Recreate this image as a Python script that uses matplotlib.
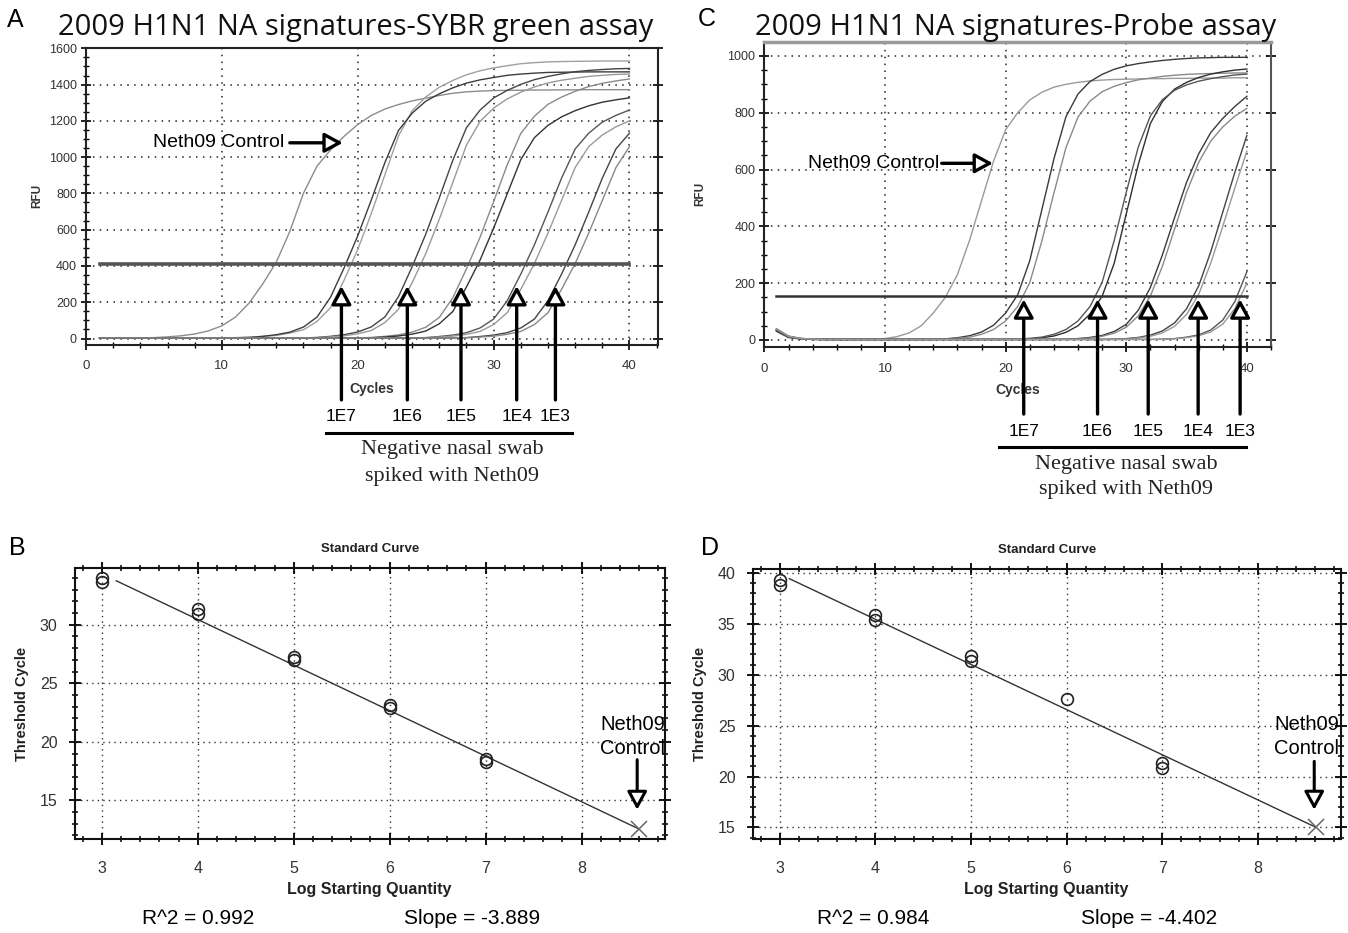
import matplotlib

matplotlib.use("Agg")
import matplotlib.pyplot as plt
from matplotlib import font_manager
from matplotlib.ticker import MultipleLocator
from matplotlib.transforms import blended_transform_factory


def first_font(*names):
    for name in names:
        try:
            font_manager.findfont(font_manager.FontProperties(family=name), fallback_to_default=False)
            return name
        except ValueError:
            continue
    return "DejaVu Sans"


SANS = first_font("Liberation Sans", "Arial")
NARROW = first_font("Liberation Sans Narrow", "DejaVu Sans Condensed", "Liberation Sans")
TITLE = first_font("Open Sans", "Lato")
SERIF = first_font("Liberation Serif", "DejaVu Serif")
plt.rcParams["font.family"] = [NARROW, "DejaVu Sans"]

# ---- data ---------------------------------------------------------------
CYCLES = list(range(1, 41))
DILUTIONS = ["1E7", "1E6", "1E5", "1E4", "1E3"]

# panel A: SYBR green amplification curves (RFU per cycle)
a_ctrl = [2, 2, 3, 3, 5, 9, 15, 25, 42, 70, 118, 195, 300, 420, 590, 800, 950, 1040, 1115, 1180,
          1230, 1265, 1290, 1310, 1325, 1340, 1352, 1360, 1364, 1367, 1368, 1369, 1370, 1370, 1371, 1371, 1372, 1372, 1372, 1372]
a_1e7a = [3, 3, 3, 3, 3, 3, 3, 3, 3, 3, 5, 7, 11, 17, 30, 48, 94, 170, 322, 490,
          690, 903, 1117, 1255, 1331, 1385, 1423, 1454, 1476, 1492, 1504, 1515, 1521, 1525, 1527, 1528, 1529, 1530, 1530, 1530]
a_1e7b = [3, 3, 3, 3, 3, 3, 3, 3, 3, 3, 4, 6, 12, 21, 35, 63, 118, 228, 390, 566,
          764, 970, 1147, 1242, 1308, 1349, 1382, 1408, 1426, 1439, 1451, 1458, 1463, 1467, 1468, 1469, 1470, 1470, 1470, 1470]
a_1e6a = [3, 3, 3, 3, 3, 3, 3, 3, 3, 3, 3, 3, 3, 3, 3, 3, 6, 12, 21, 36,
          64, 119, 231, 395, 574, 775, 983, 1162, 1259, 1326, 1368, 1401, 1427, 1445, 1459, 1471, 1478, 1483, 1487, 1489]
a_1e6b = [3, 3, 3, 3, 3, 3, 3, 3, 3, 3, 3, 3, 3, 3, 3, 3, 4, 9, 15, 26,
          44, 88, 161, 307, 467, 657, 861, 1066, 1197, 1270, 1321, 1358, 1387, 1409, 1424, 1435, 1445, 1451, 1456, 1458]
a_1e5a = [3, 3, 3, 3, 3, 3, 3, 3, 3, 3, 3, 3, 3, 3, 3, 3, 3, 3, 3, 3,
          6, 12, 20, 35, 62, 116, 225, 384, 558, 754, 957, 1131, 1225, 1291, 1331, 1363, 1389, 1407, 1420, 1431]
a_1e5b = [3, 3, 3, 3, 3, 3, 3, 3, 3, 3, 3, 3, 3, 3, 3, 3, 3, 3, 3, 3,
          4, 8, 14, 24, 41, 81, 149, 284, 432, 608, 797, 986, 1107, 1175, 1222, 1256, 1283, 1303, 1316, 1327]
a_1e4a = [3, 3, 3, 3, 3, 3, 3, 3, 3, 3, 3, 3, 3, 3, 3, 3, 3, 3, 3, 3,
          3, 3, 3, 3, 5, 11, 19, 32, 58, 107, 208, 355, 516, 697, 884, 1045, 1132, 1193, 1230, 1260]
a_1e4b = [3, 3, 3, 3, 3, 3, 3, 3, 3, 3, 3, 3, 3, 3, 3, 3, 3, 3, 3, 3,
          3, 3, 3, 3, 4, 8, 13, 23, 39, 77, 142, 271, 413, 581, 761, 942, 1058, 1122, 1167, 1200]
a_1e3a = [3, 3, 3, 3, 3, 3, 3, 3, 3, 3, 3, 3, 3, 3, 3, 3, 3, 3, 3, 3,
          3, 3, 3, 3, 3, 3, 3, 5, 11, 19, 32, 58, 107, 208, 355, 516, 697, 884, 1045, 1132]
a_1e3b = [3, 3, 3, 3, 3, 3, 3, 3, 3, 3, 3, 3, 3, 3, 3, 3, 3, 3, 3, 3,
          3, 3, 3, 3, 3, 3, 3, 4, 8, 13, 23, 39, 77, 142, 271, 413, 581, 761, 942, 1058]
A_THRESHOLD = 410
A_ARROW_CYCLES = [18.8, 23.65, 27.6, 31.7, 34.55]
A_CTRL_TIP = (18.9, 1079)

# panel C: probe amplification curves
c_ctrl = [30, 8, 3, 2, 2, 2, 2, 2, 2, 5, 12, 25, 50, 95, 150, 230, 350, 490, 630, 740,
          800, 845, 872, 890, 900, 907, 912, 915, 917, 918, 919, 920, 920, 921, 921, 922, 922, 922, 923, 923]
c_1e7a = [35, 12, 5, 3, 2, 2, 2, 2, 2, 2, 2, 2, 2, 2, 4, 8, 15, 28, 52, 95,
          159, 279, 458, 637, 786, 866, 910, 935, 953, 965, 973, 979, 984, 988, 991, 993, 994, 995, 995, 995]
c_1e7b = [40, 14, 6, 3, 2, 2, 2, 2, 2, 2, 2, 2, 2, 2, 3, 6, 10, 20, 37, 67,
          118, 202, 348, 517, 677, 785, 841, 874, 893, 906, 916, 922, 928, 932, 935, 937, 938, 939, 940, 940]
c_1e6a = [32, 10, 4, 2, 2, 2, 2, 2, 2, 2, 2, 2, 2, 2, 2, 2, 2, 2, 2, 2,
          2, 4, 8, 14, 27, 50, 92, 154, 270, 444, 618, 762, 840, 883, 907, 924, 936, 944, 950, 954]
c_1e6b = [38, 13, 5, 3, 2, 2, 2, 2, 2, 2, 2, 2, 2, 2, 2, 2, 2, 2, 2, 2,
          3, 6, 10, 20, 37, 67, 118, 203, 350, 520, 680, 789, 846, 879, 898, 911, 920, 927, 933, 936]
c_1e5a = [34, 11, 5, 3, 2, 2, 2, 2, 2, 2, 2, 2, 2, 2, 2, 2, 2, 2, 2, 2,
          2, 2, 2, 2, 3, 5, 9, 16, 30, 55, 105, 185, 300, 430, 555, 655, 730, 780, 822, 858]
c_1e5b = [36, 12, 5, 3, 2, 2, 2, 2, 2, 2, 2, 2, 2, 2, 2, 2, 2, 2, 2, 2,
          2, 2, 2, 2, 2, 4, 7, 13, 24, 45, 85, 155, 260, 390, 520, 625, 700, 750, 788, 815]
c_1e4a = [33, 10, 4, 2, 2, 2, 2, 2, 2, 2, 2, 2, 2, 2, 2, 2, 2, 2, 2, 2,
          2, 2, 2, 2, 2, 2, 2, 2, 3, 5, 9, 17, 32, 60, 110, 190, 310, 450, 590, 720]
c_1e4b = [37, 12, 5, 3, 2, 2, 2, 2, 2, 2, 2, 2, 2, 2, 2, 2, 2, 2, 2, 2,
          2, 2, 2, 2, 2, 2, 2, 2, 2, 4, 7, 13, 25, 48, 90, 160, 270, 400, 535, 665]
c_1e3a = [35, 11, 4, 2, 2, 2, 2, 2, 2, 2, 2, 2, 2, 2, 2, 2, 2, 2, 2, 2,
          2, 2, 2, 2, 2, 2, 2, 2, 2, 2, 2, 2, 3, 5, 10, 18, 35, 70, 135, 240]
c_1e3b = [39, 13, 5, 3, 2, 2, 2, 2, 2, 2, 2, 2, 2, 2, 2, 2, 2, 2, 2, 2,
          2, 2, 2, 2, 2, 2, 2, 2, 2, 2, 2, 2, 2, 4, 8, 15, 28, 56, 110, 200]
C_THRESHOLD = 155
C_ARROW_CYCLES = [21.5, 27.62, 31.82, 35.96, 39.44]
C_CTRL_TIP = (18.95, 622)

# panel B / D: standard curves
b_log_qty = [3, 3, 4, 4, 5, 5, 6, 6, 7, 7]
b_ct = [34.0, 33.65, 31.3, 30.9, 27.2, 26.95, 23.1, 22.9, 18.5, 18.25]
b_fit_x = [3.15, 8.6]
b_fit_ct = [33.75, 12.55]
b_ctrl = (8.6, 12.55)
B_R2, B_SLOPE = 0.992, -3.889

d_log_qty = [3, 3, 4, 4, 5, 5, 6, 7, 7]
d_ct = [39.3, 38.85, 35.9, 35.4, 31.8, 31.4, 27.6, 21.3, 20.85]
d_fit_x = [3.1, 8.61]
d_fit_ct = [39.45, 15.0]
d_ctrl = (8.61, 15.0)
D_R2, D_SLOPE = 0.984, -4.402

# ---- layout ----------------------------------------------------------------
W, H = 1348, 933
fig = plt.figure(figsize=(W / 100, H / 100), dpi=100)
fig.patch.set_facecolor("white")


def px_axes(left, top, right, bottom):
    return fig.add_axes([left / W, 1 - bottom / H, (right - left) / W, (bottom - top) / H])


def fig_text(x, y, s, **kw):
    fig.text(x / W, 1 - y / H, s, **kw)


def open_arrow(ax, tip, tail, textcoords="data", lw=2.4):
    ax.annotate("", xy=tip, xycoords="data", xytext=tail, textcoords=textcoords,
                annotation_clip=False,
                arrowprops=dict(arrowstyle="-|>,head_length=0.55,head_width=0.3",
                                mutation_scale=20, lw=lw, fc="white", ec="black",
                                shrinkA=0, shrinkB=0))


def amp_panel(ax, curves, colors, xmax, ylim, threshold, thr_color, thr_lw,
              arrows, tip_rfu, lay):
    ax.set_xlim(0, xmax)
    ax.set_ylim(*ylim)
    ax.xaxis.set_major_locator(MultipleLocator(10))
    ax.xaxis.set_minor_locator(MultipleLocator(2))
    ax.yaxis.set_major_locator(MultipleLocator(200))
    ax.yaxis.set_minor_locator(MultipleLocator(50))
    ax.grid(True, which="major", color="#222", linestyle=(0, (1, 3.5)), linewidth=1.1)
    ax.tick_params(which="both", direction="inout", right=True)
    ax.tick_params(which="major", length=7, width=1.2)
    ax.tick_params(which="minor", length=4, width=1.0, right=False)
    ax.tick_params(axis="x", pad=8, labelsize=9.5, labelcolor="#333")
    ax.tick_params(axis="y", pad=3, labelsize=9, labelcolor="#333")
    for sp in ax.spines.values():
        sp.set_color("#222")
        sp.set_linewidth(1.5)

    for ys, col in zip(curves, colors):
        ax.plot(CYCLES, ys, color=col, lw=1.0, zorder=3)
    ax.plot([CYCLES[0], CYCLES[-1]], [threshold, threshold], color=thr_color, lw=thr_lw, zorder=4)

    ax.text(0.5, lay["cycles_y"], "Cycles", transform=ax.transAxes, ha="center", va="center",
            fontsize=10, fontweight="bold", family=SANS, color="#333")
    ax.text(lay["rfu_x"], 0.5, "RFU", transform=ax.transAxes, rotation=90, ha="center",
            va="center", fontsize=8.5, fontweight="bold", family=SANS, color="#333")

    blend = blended_transform_factory(ax.transData, ax.transAxes)
    for cyc, lab in zip(arrows, DILUTIONS):
        open_arrow(ax, (cyc, tip_rfu), (cyc, lay["tail_y"]), textcoords=("data", "axes fraction"))
        ax.text(cyc, lay["label_y"], lab, transform=blend, ha="center", va="center",
                fontsize=12.5, family=SANS)
    ax.plot(lay["bar_x"], [lay["bar_y"]] * 2, transform=blend, clip_on=False, color="black", lw=2.2)
    ax.text(lay["note_x"], lay["note_y"][0], "Negative nasal swab", transform=blend,
            ha="center", va="center", fontsize=16, family=SERIF, color="#222")
    ax.text(lay["note_x"], lay["note_y"][1], "spiked with Neth09", transform=blend,
            ha="center", va="center", fontsize=16, family=SERIF, color="#222")

    tip = lay["ctrl_tip"]
    ax.text(lay["ctrl_text_x"], tip[1], "Neth09 Control", ha="right", va="center",
            fontsize=14, family=SANS, zorder=5)
    open_arrow(ax, tip, (lay["ctrl_shaft_x"], tip[1]))


def std_panel(ax, xs, cts, fit_x, fit_ct, ctrl, ylim, txt):
    ax.set_xlim(2.72, 8.87)
    ax.set_ylim(*ylim)
    ax.xaxis.set_major_locator(MultipleLocator(1))
    ax.xaxis.set_minor_locator(MultipleLocator(0.2))
    ax.yaxis.set_major_locator(MultipleLocator(5))
    ax.yaxis.set_minor_locator(MultipleLocator(1))
    ax.grid(True, which="major", color="#333", linestyle=(0, (1, 3)), linewidth=1.0)
    ax.tick_params(which="both", direction="inout", top=True, right=True, labelsize=11.5,
                   labelcolor="#333")
    ax.tick_params(which="major", length=9, width=1.3)
    ax.tick_params(which="minor", length=5, width=1.1)
    ax.tick_params(axis="x", pad=11)
    ax.tick_params(axis="y", pad=8)
    for sp in ax.spines.values():
        sp.set_color("#111")
        sp.set_linewidth(1.5)

    ax.plot(fit_x, fit_ct, color="#333", lw=1.0, zorder=3)
    ax.plot(xs, cts, "o", mfc="none", mec="#222", ms=8.5, mew=1.2, zorder=4)
    ax.plot([ctrl[0]], [ctrl[1]], "x", color="#666", ms=12, mew=1.1, zorder=4)

    ax.text(0.5, 1.07, "Standard Curve", transform=ax.transAxes, ha="center", va="center",
            fontsize=9.5, fontweight="bold", family=SANS, color="#222")
    ax.text(0.498, -0.187, "Log Starting Quantity", transform=ax.transAxes, ha="center",
            va="center", fontsize=11.5, fontweight="bold", family=SANS, color="#222")
    ax.text(-0.09, 0.5, "Threshold Cycle", transform=ax.transAxes, rotation=90, ha="center",
            va="center", fontsize=10.5, fontweight="bold", family=SANS, color="#222")

    ax.text(txt["x"], txt["y"][0], "Neth09", ha="center", va="center", fontsize=14.5,
            family=SANS, clip_on=True)
    ax.text(txt["x"], txt["y"][1], "Control", ha="center", va="center", fontsize=14.5,
            family=SANS, clip_on=True)
    open_arrow(ax, (ctrl[0] - 0.02, txt["arrow"][1]), (ctrl[0] - 0.02, txt["arrow"][0]), lw=2.2)


axA = px_axes(86, 48.3, 658, 344.5)
axC = px_axes(764.4, 42, 1271, 346.7)
axB = px_axes(75, 568, 665, 839)
axD = px_axes(753, 569, 1341, 839)

amp_panel(axA,
          [a_ctrl, a_1e7a, a_1e7b, a_1e6a, a_1e6b, a_1e5a, a_1e5b, a_1e4a, a_1e4b, a_1e3a, a_1e3b],
          ["#8c8c8c", "#a0a0a0", "#3c3c3c", "#444444", "#999999", "#8a8a8a", "#333333",
           "#555555", "#9a9a9a", "#444444", "#888888"],
          42.1, (-33, 1600), A_THRESHOLD, "#555555", 2.6, A_ARROW_CYCLES, 289,
          dict(cycles_y=-0.150, rfu_x=-0.085, tail_y=-0.187, label_y=-0.2435,
               bar_x=[17.64, 35.8], bar_y=-0.2985, note_x=26.93, note_y=[-0.356, -0.446],
               ctrl_tip=A_CTRL_TIP, ctrl_text_x=14.6, ctrl_shaft_x=15.0))

amp_panel(axC,
          [c_ctrl, c_1e7a, c_1e7b, c_1e6a, c_1e6b, c_1e5a, c_1e5b, c_1e4a, c_1e4b, c_1e3a, c_1e3b],
          ["#9a9a9a", "#3a3a3a", "#8a8a8a", "#2e2e2e", "#555555", "#3a3a3a", "#8a8a8a",
           "#444444", "#999999", "#555555", "#999999"],
          42.0, (-23.6, 1049), C_THRESHOLD, "#333333", 1.8, C_ARROW_CYCLES, 143,
          dict(cycles_y=-0.142, rfu_x=-0.127, tail_y=-0.221, label_y=-0.279,
               bar_x=[19.44, 39.93], bar_y=-0.328, note_x=29.98, note_y=[-0.386, -0.469],
               ctrl_tip=C_CTRL_TIP, ctrl_text_x=14.5, ctrl_shaft_x=14.7))
axC.spines["top"].set_color("#999999")
axC.spines["top"].set_linewidth(2.5)
axC.spines["right"].set_color("#555555")

std_panel(axB, b_log_qty, b_ct, b_fit_x, b_fit_ct, b_ctrl, (11.7, 34.84),
          dict(x=8.53, y=[21.46, 19.47], arrow=[18.47, 14.2]))
std_panel(axD, d_log_qty, d_ct, d_fit_x, d_fit_ct, d_ctrl, (13.86, 40.4),
          dict(x=8.51, y=[25.09, 22.8], arrow=[21.49, 16.74]))

# titles and panel letters
fig_text(58, 28, "2009 H1N1 NA signatures-SYBR green assay", ha="left", va="center",
         fontsize=21, family=TITLE, color="#111")
fig_text(755, 28, "2009 H1N1 NA signatures-Probe assay", ha="left", va="center",
         fontsize=21, family=TITLE, color="#111")
for letter, x, y in [("A", 15, 20), ("C", 707, 19), ("B", 17, 548), ("D", 710, 548)]:
    fig_text(x, y, letter, ha="center", va="center", fontsize=18, family=SANS)

fig_text(198, 918, f"R^2 = {B_R2:.3f}", ha="center", va="center", fontsize=15, family=SANS)
fig_text(471.6, 918, f"Slope = {B_SLOPE:.3f}", ha="center", va="center", fontsize=15, family=SANS)
fig_text(873.5, 918, f"R^2 = {D_R2:.3f}", ha="center", va="center", fontsize=15, family=SANS)
fig_text(1149.4, 918, f"Slope = {D_SLOPE:.3f}", ha="center", va="center", fontsize=15, family=SANS)

fig.savefig("out.png", dpi=100, facecolor="white")
